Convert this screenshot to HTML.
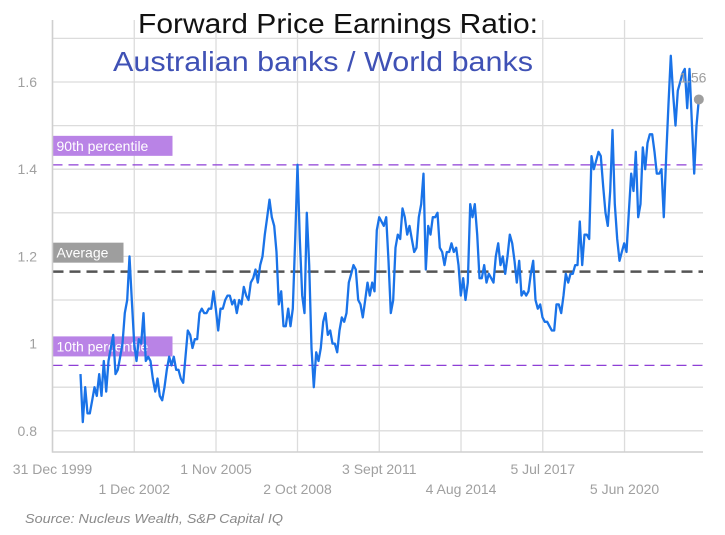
<!DOCTYPE html>
<html><head><meta charset="utf-8"><style>
html,body{margin:0;padding:0;background:#fff;}
svg{display:block;font-family:"Liberation Sans",sans-serif;}
</style></head><body>
<svg id="chart" width="725" height="535" viewBox="0 0 725 535" xmlns="http://www.w3.org/2000/svg">
<g id="grid"></g>
<g id="refs"></g>
<g id="series"></g>
<g id="axes"></g>
<text x="138" y="33" font-size="28" fill="#111" textLength="400" lengthAdjust="spacingAndGlyphs">Forward Price Earnings Ratio:</text>
<text x="113" y="71" font-size="28" fill="#3f51b5" textLength="420" lengthAdjust="spacingAndGlyphs">Australian banks / World banks</text>
<text x="25" y="523" font-size="13" font-style="italic" fill="#8a8a8a" textLength="258" lengthAdjust="spacingAndGlyphs">Source: Nucleus Wealth, S&amp;P Capital IQ</text>
</svg>
<script>
const startYear = 2001.0;
const values = [0.93,0.82,0.90,0.84,0.84,0.87,0.90,0.88,0.93,0.88,0.96,0.89,0.96,0.99,1.02,0.93,0.94,0.97,1.00,1.07,1.10,1.20,1.10,1.00,0.96,1.01,1.00,1.07,0.96,0.97,0.96,0.92,0.89,0.92,0.88,0.87,0.90,0.94,0.97,0.95,0.97,0.94,0.94,0.92,0.91,0.97,1.03,1.02,0.99,1.01,1.01,1.07,1.08,1.07,1.07,1.08,1.08,1.12,1.08,1.03,1.08,1.08,1.10,1.11,1.11,1.09,1.10,1.07,1.10,1.09,1.13,1.11,1.10,1.14,1.15,1.17,1.14,1.18,1.20,1.25,1.29,1.33,1.29,1.27,1.21,1.09,1.12,1.04,1.04,1.08,1.04,1.08,1.24,1.41,1.24,1.11,1.07,1.30,1.18,0.99,0.90,0.98,0.96,0.99,1.05,1.07,1.02,1.03,1.00,1.00,0.98,1.03,1.06,1.05,1.07,1.14,1.16,1.18,1.17,1.10,1.09,1.06,1.10,1.14,1.11,1.14,1.12,1.26,1.29,1.28,1.27,1.29,1.19,1.07,1.10,1.22,1.25,1.24,1.31,1.29,1.25,1.27,1.24,1.21,1.22,1.29,1.32,1.39,1.17,1.27,1.25,1.29,1.29,1.30,1.22,1.21,1.18,1.21,1.21,1.23,1.21,1.22,1.18,1.11,1.15,1.10,1.14,1.32,1.29,1.32,1.25,1.15,1.15,1.18,1.14,1.16,1.15,1.14,1.20,1.23,1.18,1.20,1.16,1.20,1.25,1.23,1.19,1.14,1.19,1.11,1.12,1.11,1.12,1.16,1.19,1.10,1.08,1.09,1.06,1.05,1.05,1.04,1.03,1.03,1.09,1.09,1.07,1.11,1.16,1.14,1.16,1.16,1.18,1.18,1.28,1.18,1.25,1.25,1.24,1.43,1.40,1.42,1.44,1.43,1.36,1.30,1.27,1.35,1.49,1.32,1.24,1.19,1.21,1.23,1.21,1.30,1.39,1.35,1.44,1.29,1.32,1.45,1.40,1.46,1.48,1.48,1.44,1.39,1.39,1.40,1.29,1.43,1.55,1.66,1.57,1.50,1.58,1.60,1.62,1.63,1.54,1.63,1.51,1.39,1.50,1.56];
const yTicks = [0.8,1,1.2,1.4,1.6];
const yGrid = [0.8,0.9,1.0,1.1,1.2,1.3,1.4,1.5,1.6,1.7];
const xTickYears = [2000.0,2002.92,2005.84,2008.75,2011.67,2014.59,2017.51,2020.43];
const xTickLabels = ["31 Dec 1999","1 Dec 2002","1 Nov 2005","2 Oct 2008","3 Sept 2011","4 Aug 2014","5 Jul 2017","5 Jun 2020"];
const refValues = [1.41,1.165,0.95];
const refLabels = ["90th percentile","Average","10th percentile"];

const NS="http://www.w3.org/2000/svg";
const L=52.5,R=703,T=20,B=452;
function xs(yr){return L+(yr-2000)*28.0;}
function ys(v){return 82+(1.6-v)*436;}
function mk(tag,attrs,parent){const e=document.createElementNS(NS,tag);for(const k in attrs)e.setAttribute(k,attrs[k]);parent.appendChild(e);return e;}
const grid=document.getElementById('grid'),refs=document.getElementById('refs'),series=document.getElementById('series'),axes=document.getElementById('axes');

yGrid.forEach(v=>{const l=mk('line',{x1:L,x2:R,y1:ys(v),y2:ys(v),stroke:'#dcdcdc','stroke-width':1.3},grid);

});
xTickYears.forEach((yr,i)=>{const l=mk('line',{x1:xs(yr),x2:xs(yr),y1:T,y2:B,stroke:'#dcdcdc','stroke-width':1.3},grid);


const t=mk('text',{x:xs(yr),y:i%2?494:474,'text-anchor':'middle','font-size':14,fill:'#a0a0a0'},axes);
t.textContent=xTickLabels[i];

});
yTicks.forEach(v=>{const t=mk('text',{x:37,y:ys(v)+5,'text-anchor':'end','font-size':14,fill:'#a0a0a0'},axes);
t.textContent=String(v);

});
const ax=mk('path',{d:`M${L} ${T}V${B}H${R}`,fill:'none',stroke:'#cfcfcf','stroke-width':1.5},axes);



const refColors=['#8e3fd6','#555','#8e3fd6'];
const boxColors=['#b983e6','#9e9e9e','#b983e6'];
refValues.forEach((v,i)=>{const y=ys(v);
const l=mk('line',{x1:L,x2:R,y1:y,y2:y,stroke:refColors[i],'stroke-width':i==1?2.5:1.3,'stroke-dasharray':i==1?'11 6':'10 6'},refs);


const w=i==1?71:120;
const r=mk('rect',{x:L,y:y-29,width:w,height:20,fill:boxColors[i]},refs);


const t=mk('text',{x:L+4,y:y-14,'font-size':14,fill:'#fff'},refs);
t.textContent=refLabels[i];

});

const pts=values.map((v,i)=>[xs(startYear+i/12),ys(v)]);
const p=mk('path',{d:'M'+pts.map(q=>q[0].toFixed(1)+' '+q[1].toFixed(1)).join('L'),fill:'none',stroke:'#1a73e8','stroke-width':2.3,'stroke-linejoin':'round'},series);


const last=pts[pts.length-1];
const c=mk('circle',{cx:last[0],cy:last[1],r:5,fill:'#9e9e9e'},series);


const lt=mk('text',{x:last[0]-6,y:last[1]-17,'text-anchor':'middle','font-size':14,fill:'#9e9e9e'},series);
lt.textContent=values[values.length-1].toFixed(2);


</script>
</body></html>
